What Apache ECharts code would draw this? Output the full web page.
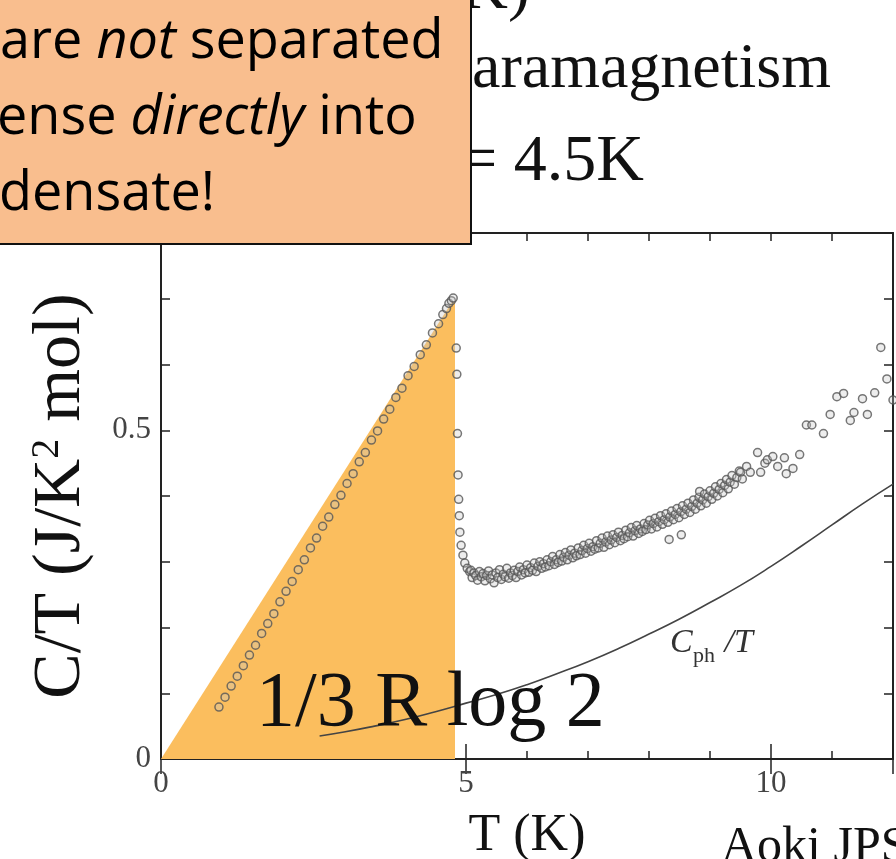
<!DOCTYPE html>
<html>
<head>
<meta charset="utf-8">
<title>C/T vs T</title>
<script src="https://cdn.jsdelivr.net/npm/echarts@6/dist/echarts.min.js"></script>
<style>
  html, body { margin: 0; padding: 0; background: #fff; }
  #chart { width: 896px; height: 859px; }
</style>
</head>
<body>
<div id="chart"></div>
<script>
// Superconducting entropy-balance area (shaded triangle below Tc)
const scAreaT = [0, 4.77, 4.82, 4.82];
const scAreaC = [0, 0.695, 0.695, 0];

// Measured C/T below Tc (rising, nearly linear in T)
const risingPoints = [
  [0.95,0.079],[1.05,0.094],[1.15,0.111],[1.25,0.126],[1.35,0.142],[1.45,0.158],
  [1.55,0.173],[1.65,0.191],[1.75,0.206],[1.85,0.221],[1.95,0.239],[2.05,0.255],
  [2.15,0.270],[2.25,0.288],[2.35,0.303],[2.45,0.321],[2.55,0.336],[2.65,0.354],
  [2.75,0.368],[2.85,0.387],[2.95,0.401],[3.05,0.419],[3.15,0.434],[3.25,0.452],
  [3.35,0.466],[3.45,0.485],[3.55,0.499],[3.65,0.517],[3.75,0.532],[3.85,0.550],
  [3.95,0.564],[4.05,0.583],[4.15,0.597],[4.25,0.615],[4.35,0.630],[4.45,0.648],
  [4.55,0.662],[4.62,0.676],[4.68,0.685],[4.72,0.693],[4.76,0.697],[4.79,0.701]
];

// Jump at the transition
const transitionPoints = [
  [4.84,0.625],[4.85,0.585],[4.86,0.495],[4.87,0.432],[4.88,0.395],[4.89,0.370],
  [4.90,0.345],[4.92,0.325],[4.95,0.310],[4.98,0.298],[5.02,0.290],[5.06,0.285]
];

// Normal-state C/T above Tc
const normalPoints = [
  [5.08,0.287],[5.10,0.276],[5.13,0.283],[5.16,0.279],[5.19,0.272],[5.22,0.285],
  [5.25,0.277],[5.28,0.282],[5.31,0.271],[5.34,0.279],[5.37,0.286],[5.40,0.274],
  [5.43,0.280],[5.46,0.268],[5.49,0.283],[5.52,0.276],[5.55,0.288],[5.58,0.273],
  [5.61,0.281],[5.64,0.277],[5.67,0.290],[5.70,0.275],[5.73,0.283],[5.76,0.279],
  [5.79,0.287],[5.82,0.276],[5.85,0.285],[5.88,0.292],[5.91,0.280],[5.94,0.288],
  [5.97,0.283],[6.00,0.295],[6.03,0.284],[6.06,0.291],[6.09,0.287],[6.12,0.298],
  [6.15,0.285],[6.18,0.293],[6.21,0.300],[6.24,0.290],[6.27,0.297],[6.30,0.292],
  [6.33,0.303],[6.36,0.294],[6.39,0.300],[6.42,0.308],[6.45,0.296],[6.48,0.303],
  [6.51,0.299],[6.54,0.311],[6.57,0.301],[6.60,0.307],[6.63,0.314],[6.66,0.303],
  [6.69,0.310],[6.72,0.318],[6.75,0.306],[6.78,0.313],[6.81,0.309],[6.84,0.321],
  [6.87,0.311],[6.90,0.317],[6.93,0.325],[6.96,0.313],[6.99,0.320],[7.02,0.328],
  [7.05,0.316],[7.08,0.323],[7.11,0.319],[7.14,0.332],[7.17,0.321],[7.20,0.328],
  [7.23,0.336],[7.26,0.322],[7.29,0.330],[7.32,0.339],[7.35,0.326],[7.38,0.333],
  [7.41,0.341],[7.44,0.329],[7.47,0.337],[7.50,0.345],[7.53,0.332],[7.56,0.340],
  [7.59,0.335],[7.62,0.348],[7.65,0.338],[7.68,0.344],[7.71,0.352],[7.74,0.339],
  [7.77,0.347],[7.80,0.355],[7.83,0.343],[7.86,0.350],[7.89,0.346],[7.92,0.358],
  [7.95,0.349],[7.98,0.356],[8.01,0.363],[8.04,0.350],[8.07,0.358],[8.10,0.366],
  [8.13,0.353],[8.16,0.361],[8.19,0.370],[8.22,0.357],[8.25,0.364],[8.28,0.373],
  [8.31,0.360],[8.33,0.334],[8.34,0.368],[8.37,0.377],[8.40,0.364],[8.43,0.372],
  [8.46,0.381],[8.49,0.367],[8.52,0.376],[8.53,0.341],[8.55,0.385],[8.58,0.372],
  [8.61,0.380],[8.64,0.389],[8.67,0.375],[8.70,0.384],[8.73,0.394],[8.76,0.380],
  [8.79,0.389],[8.82,0.398],[8.83,0.407],[8.85,0.385],[8.88,0.394],[8.91,0.403],
  [8.94,0.389],[8.97,0.399],[9.00,0.408],[9.03,0.395],[9.06,0.404],[9.09,0.414],
  [9.12,0.400],[9.15,0.410],[9.18,0.419],[9.21,0.405],[9.24,0.416],[9.27,0.425],
  [9.30,0.411],[9.33,0.421],[9.36,0.431],[9.40,0.418],[9.44,0.428],[9.48,0.438],
  [9.50,0.436],[9.53,0.426],[9.60,0.445],[9.66,0.436],[9.78,0.466],[9.83,0.436],
  [9.90,0.450],[9.94,0.455],[10.03,0.460],[10.11,0.445],[10.22,0.458],[10.25,0.434],
  [10.36,0.442],[10.47,0.463],[10.58,0.508],[10.67,0.508],[10.86,0.495],[10.97,0.524],
  [11.08,0.551],[11.19,0.556],[11.30,0.515],[11.36,0.527],[11.50,0.548],[11.58,0.524],
  [11.70,0.557],[11.80,0.626],[11.90,0.578],[12.00,0.546]
];

// Phonon contribution C_ph/T
const phononT = [2.6, 3.0, 3.5, 4.0, 4.5, 5.0, 5.5, 6.0, 6.5, 7.0, 7.5, 8.0, 8.5, 9.0, 9.5, 10.0, 10.5, 11.0, 11.5, 12.0];
const phononC = [0.035, 0.041, 0.050, 0.060, 0.072, 0.085, 0.098, 0.113, 0.130, 0.148, 0.168, 0.190, 0.213, 0.238, 0.264, 0.293, 0.324, 0.356, 0.388, 0.418];

// Tick labels shown on the axes
const xTickLabels = [0, 5, 10];
const yTickLabels = [0, 0.5];

const serif = 'Liberation Serif';
const axisColor = '#222';

const chart = echarts.init(document.getElementById('chart'), null, { renderer: 'canvas' });

function frameX(position, interval, tickLen, extra) {
  return Object.assign({
    type: 'value', min: 0, max: 12, interval: interval, position: position,
    axisLine: { show: true, onZero: false, lineStyle: { color: axisColor, width: 2 } },
    axisTick: { show: true, inside: true, length: tickLen, lineStyle: { color: axisColor, width: 1.5 } },
    axisLabel: { show: false },
    splitLine: { show: false }
  }, extra || {});
}
function frameY(position, extra) {
  return Object.assign({
    type: 'value', min: 0, max: 0.8, interval: 0.1, position: position,
    axisLine: { show: true, onZero: false, lineStyle: { color: axisColor, width: 2 } },
    axisTick: { show: true, inside: true, length: 9, lineStyle: { color: axisColor, width: 1.5 } },
    axisLabel: { show: false },
    splitLine: { show: false }
  }, extra || {});
}

const calloutRich = {
  n: { fontFamily: 'Open Sans', fontSize: 54, fill: '#000' },
  i: { fontFamily: 'Open Sans', fontSize: 54, fontStyle: 'italic', fill: '#000' }
};

const option = {
  backgroundColor: '#ffffff',
  animation: false,
  grid: { left: 161, right: 3, top: 233, bottom: 100, containLabel: false, outerBoundsMode: 'none' },
  xAxis: [
    frameX('bottom', 1, 8, {
      axisLabel: {
        show: true, margin: 9, fontFamily: serif, fontSize: 31, color: '#444',
        formatter: v => xTickLabels.indexOf(Math.round(v * 1000) / 1000) >= 0 ? String(v) : ''
      },
      name: 'T (K)', nameLocation: 'middle', nameGap: 51,
      nameTextStyle: { fontFamily: serif, fontSize: 52, color: '#111' }
    }),
    frameX('bottom', 5, 15, { axisLine: { show: false } }),
    frameX('top', 1, 8),
    frameX('top', 5, 15, { axisLine: { show: false } })
  ],
  yAxis: [
    frameY('left', {
      axisLabel: {
        show: true, margin: 10, fontFamily: serif, fontSize: 31, color: '#444',
        formatter: v => {
          const r = Math.round(v * 1000) / 1000;
          return yTickLabels.indexOf(r) >= 0 ? String(r) : '';
        }
      },
      name: '{a|C/T (J/K}{s|2}{a| mol)}', nameLocation: 'middle', nameGap: 66,
      nameTextStyle: {
        fontFamily: serif, fontSize: 68, color: '#111',
        rich: {
          a: { fontFamily: serif, fontSize: 68, color: '#111' },
          s: { fontFamily: serif, fontSize: 40, color: '#111', verticalAlign: 'top' }
        }
      }
    }),
    frameY('right')
  ],
  series: [
    {
      name: 'entropy area', type: 'line', xAxisIndex: 0, yAxisIndex: 0,
      data: scAreaT.map((t, i) => [t, scAreaC[i]]),
      symbol: 'none', lineStyle: { width: 0 },
      areaStyle: { color: '#FBBE5E', opacity: 1 },
      z: 1, silent: true
    },
    {
      name: 'C/T', type: 'scatter', xAxisIndex: 0, yAxisIndex: 0,
      data: risingPoints.concat(transitionPoints, normalPoints),
      symbol: 'circle', symbolSize: 8,
      itemStyle: { color: 'rgba(200,200,200,0.4)', borderColor: '#555', borderWidth: 1.5 },
      z: 3
    },
    {
      name: 'C_ph/T', type: 'line', xAxisIndex: 0, yAxisIndex: 0,
      data: phononT.map((t, i) => [t, phononC[i]]),
      smooth: true, symbol: 'none',
      lineStyle: { color: '#444', width: 1.6 },
      z: 2
    }
  ],
  graphic: [
    // big in-plot annotation
    { type: 'text', x: 256, y: 705, z: 50,
      style: { text: '1/3 R log 2', font: '78px "Liberation Serif"', fill: '#111', align: 'left', verticalAlign: 'middle' } },
    // phonon curve label
    { type: 'text', x: 670, y: 643, z: 50,
      style: { text: 'C', font: 'italic 34px "Liberation Serif"', fill: '#333', align: 'left', verticalAlign: 'middle' } },
    { type: 'text', x: 693, y: 656, z: 50,
      style: { text: 'ph', font: '22px "Liberation Serif"', fill: '#333', align: 'left', verticalAlign: 'middle' } },
    { type: 'text', x: 716, y: 643, z: 50,
      style: { text: ' /T', font: 'italic 34px "Liberation Serif"', fill: '#333', align: 'left', verticalAlign: 'middle' } },
    // heading text
    { type: 'text', x: 530, y: -9, z: 40,
      style: { text: 'K)', font: '66px "Liberation Serif"', fill: '#111', align: 'right', verticalAlign: 'middle' } },
    { type: 'text', x: 472, y: 70, z: 40,
      style: { text: 'aramagnetism', font: '64px "Liberation Serif"', fill: '#111', align: 'left', verticalAlign: 'middle' } },
    { type: 'text', x: 644, y: 163, z: 40,
      style: { text: '= 4.5K', font: '66px "Liberation Serif"', fill: '#111', align: 'right', verticalAlign: 'middle' } },
    // citation
    { type: 'text', x: 721, y: 848, z: 40,
      style: { text: 'Aoki JPS', font: '50px "Liberation Serif"', fill: '#111', align: 'left', verticalAlign: 'middle' } },
    // callout box
    { type: 'rect', z: 100,
      shape: { x: -3, y: -3, width: 474, height: 247 },
      style: { fill: '#F9BE8E', stroke: '#111', lineWidth: 2 } },
    { type: 'text', x: 0, y: 43, z: 101,
      style: { text: '{n|are }{i|not}{n| separated}', align: 'left', verticalAlign: 'middle', rich: calloutRich } },
    { type: 'text', x: -3, y: 119, z: 101,
      style: { text: '{n|ense }{i|directly}{n| into}', align: 'left', verticalAlign: 'middle', rich: calloutRich } },
    { type: 'text', x: -1, y: 195, z: 101,
      style: { text: '{n|densate!}', align: 'left', verticalAlign: 'middle', rich: calloutRich } }
  ]
};

chart.setOption(option);
</script>
</body>
</html>
